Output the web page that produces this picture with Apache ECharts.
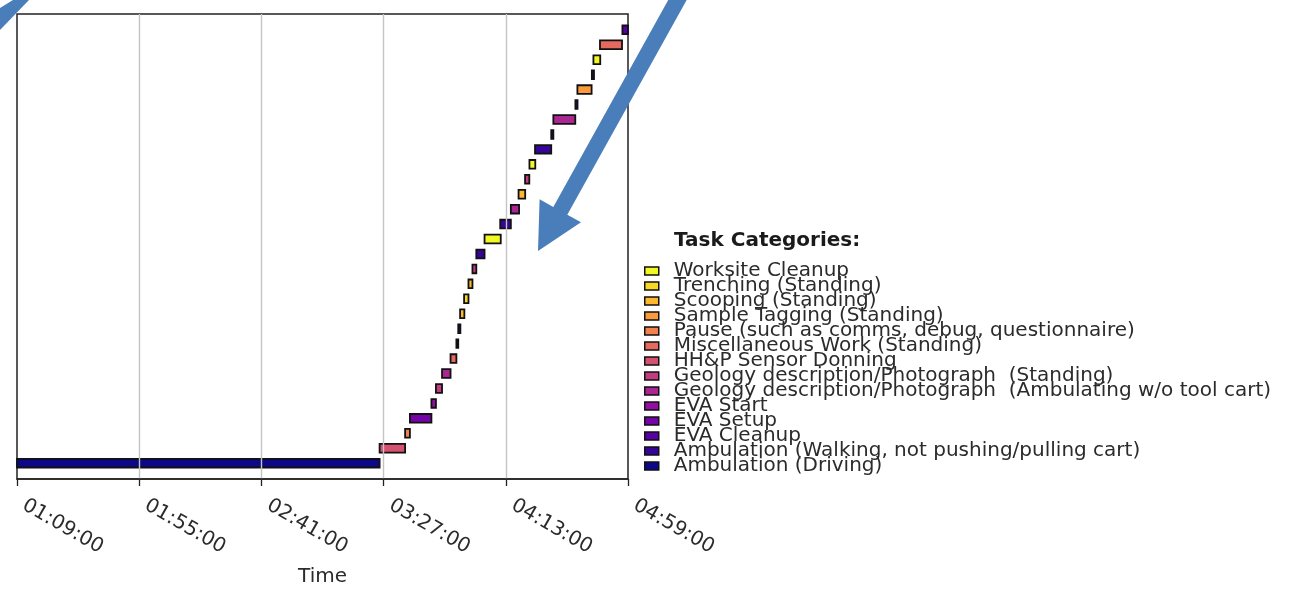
<!DOCTYPE html>
<html>
<head>
<meta charset="utf-8">
<script src="https://cdn.jsdelivr.net/npm/echarts@6/dist/echarts.min.js"></script>
<style>
html,body{margin:0;padding:0;background:#fff;}
#chart{width:1294px;height:592px;}
</style>
</head>
<body>
<div id="chart"></div>
<script>
// ---- Data ----
const categories = [
  'Worksite Cleanup',
  'Trenching (Standing)',
  'Scooping (Standing)',
  'Sample Tagging (Standing)',
  'Pause (such as comms, debug, questionnaire)',
  'Miscellaneous Work (Standing)',
  'HH&P Sensor Donning',
  'Geology description/Photograph  (Standing)',
  'Geology description/Photograph  (Ambulating w/o tool cart)',
  'EVA Start',
  'EVA Setup',
  'EVA Cleanup',
  'Ambulation (Walking, not pushing/pulling cart)',
  'Ambulation (Driving)'
];
const categoryColors = ['#f0f921','#f9d824','#fcb82e','#f99b3c','#f1814d','#e4695f','#d45270',
                        '#c23c81','#ac2693','#920fa2','#7504a7','#5702a3','#350598','#0d0887'];

const xTickLabels = ['01:09:00','01:55:00','02:41:00','03:27:00','04:13:00','04:59:00'];

// tasks, in row order from bottom to top
const taskStart = ['01:09:00','03:25:30','03:35:06','03:36:54','03:45:00','03:46:42','03:49:00','03:52:12',
  '03:54:24','03:55:06','03:55:48','03:57:18','03:58:57','04:00:27','04:01:54','04:05:00','04:10:54',
  '04:14:54','04:17:48','04:20:15','04:21:54','04:24:00','04:30:06','04:30:54','04:39:12','04:39:57',
  '04:45:24','04:45:59','04:48:27','04:56:54'];
const taskEnd = ['03:25:30','03:35:06','03:36:54','03:45:00','03:46:42','03:49:00','03:52:12','03:54:24',
  '03:55:06','03:55:54','03:57:24','03:58:57','04:00:27','04:01:54','04:05:00','04:11:06','04:14:54',
  '04:18:00','04:20:18','04:21:51','04:24:06','04:30:06','04:30:54','04:39:09','04:40:00','04:45:18',
  '04:46:12','04:48:33','04:56:45','04:59:00'];
const taskCategory = [
  'Ambulation (Driving)',
  'HH&P Sensor Donning',
  'Pause (such as comms, debug, questionnaire)',
  'EVA Setup',
  'EVA Start',
  'Geology description/Photograph  (Standing)',
  'Geology description/Photograph  (Ambulating w/o tool cart)',
  'Miscellaneous Work (Standing)',
  'Ambulation (Walking, not pushing/pulling cart)',
  'Ambulation (Walking, not pushing/pulling cart)',
  'Scooping (Standing)',
  'Trenching (Standing)',
  'Scooping (Standing)',
  'Geology description/Photograph  (Standing)',
  'Ambulation (Walking, not pushing/pulling cart)',
  'Worksite Cleanup',
  'Ambulation (Walking, not pushing/pulling cart)',
  'Geology description/Photograph  (Ambulating w/o tool cart)',
  'Scooping (Standing)',
  'Geology description/Photograph  (Standing)',
  'Worksite Cleanup',
  'Ambulation (Walking, not pushing/pulling cart)',
  'Ambulation (Walking, not pushing/pulling cart)',
  'Geology description/Photograph  (Ambulating w/o tool cart)',
  'Ambulation (Walking, not pushing/pulling cart)',
  'Sample Tagging (Standing)',
  'Ambulation (Walking, not pushing/pulling cart)',
  'Worksite Cleanup',
  'Miscellaneous Work (Standing)',
  'EVA Cleanup'
];

// ---- helpers ----
function toSec(s){ const p=s.split(':').map(Number); return p[0]*3600+p[1]*60+p[2]; }
function fmt(sec){ const h=Math.floor(sec/3600), m=Math.floor((sec%3600)/60), s=Math.round(sec%60);
  const z=n=>String(n).padStart(2,'0'); return z(h)+':'+z(m)+':'+z(s); }
const axisStart = toSec(xTickLabels[0]);
const axisEnd = toSec(xTickLabels[xTickLabels.length-1]);
const tickStep = toSec(xTickLabels[1]) - axisStart;
const FONT = 'DejaVu Sans';

function renderItem(params, api){
  const s = api.coord([api.value(0), api.value(2)]);
  const e = api.coord([api.value(1), api.value(2)]);
  const h = api.size([0, 0.58])[1];
  return {type:'rect', shape:{x:s[0], y:s[1]-h/2, width:e[0]-s[0], height:h},
    style:{fill:api.visual('color'), stroke:'#111', lineWidth:1.8}};
}

const series = categories.map((c,i)=>{
  const data=[];
  taskCategory.forEach((tc,r)=>{ if(tc===c) data.push([toSec(taskStart[r])-axisStart, toSec(taskEnd[r])-axisStart, r]); });
  return {type:'custom', name:c, renderItem, data, encode:{x:[0,1], y:2},
    itemStyle:{color:categoryColors[i]}, color:categoryColors[i], z:2, clip:false};
});

const chart = echarts.init(document.getElementById('chart'), null, {renderer:'canvas'});
chart.setOption({
  animation:false,
  backgroundColor:'#fff',
  grid:{left:17, right:666, top:14, bottom:110, show:true, borderColor:'#222', borderWidth:1.5, backgroundColor:'transparent'},
  xAxis:{type:'value', min:0, max:axisEnd-axisStart, interval:tickStep, z:3,
    axisLine:{show:true, onZero:false, lineStyle:{color:'#222', width:1.5}},
    axisTick:{show:true, length:7, lineStyle:{color:'#222', width:1.3}},
    axisLabel:{show:true, rotate:-30, margin:21, padding:[0,0,0,8], fontFamily:FONT, fontSize:20, color:'#2b2b2b',
      showMinLabel:true, showMaxLabel:true,
      formatter:v=>fmt(v+axisStart)},
    splitLine:{show:true, showMinLine:false, showMaxLine:false, lineStyle:{color:'#c4c4c4', width:1.4}},
    name:'Time', nameLocation:'middle', nameGap:88,
    nameTextStyle:{fontFamily:FONT, fontSize:20, color:'#2b2b2b'}},
  yAxis:{type:'value', min:-1.06, max:taskStart.length-1+1.06, show:false, splitLine:{show:false}},
  legend:{data:categories, orient:'vertical', left:644, top:261, padding:0, itemGap:-5, itemWidth:14, itemHeight:8,
    icon:'rect', selectedMode:false,
    itemStyle:{borderColor:'#111', borderWidth:1.5},
    textStyle:{fontFamily:FONT, fontSize:20, color:'#2b2b2b', lineHeight:15, padding:[0,0,0,10]}},
  graphic:[
    {type:'text', left:674, top:231, z:10, style:{text:'Task Categories:', fontFamily:FONT, fontSize:20, fontWeight:'bold', fill:'#1a1a1a'}},
    {type:'polygon', z:100, shape:{points:[[690,-6],[567.3,214.7],[581,222.3],[538,251],[539.6,199.3],[553.3,206.9],[676,-14]]},
      style:{fill:'#4a7ebb'}},
    {type:'polygon', z:100, shape:{points:[[0,8],[13,0],[29,0],[0,30]]}, style:{fill:'#4a7ebb'}}
  ],
  series
});
</script>
</body>
</html>
